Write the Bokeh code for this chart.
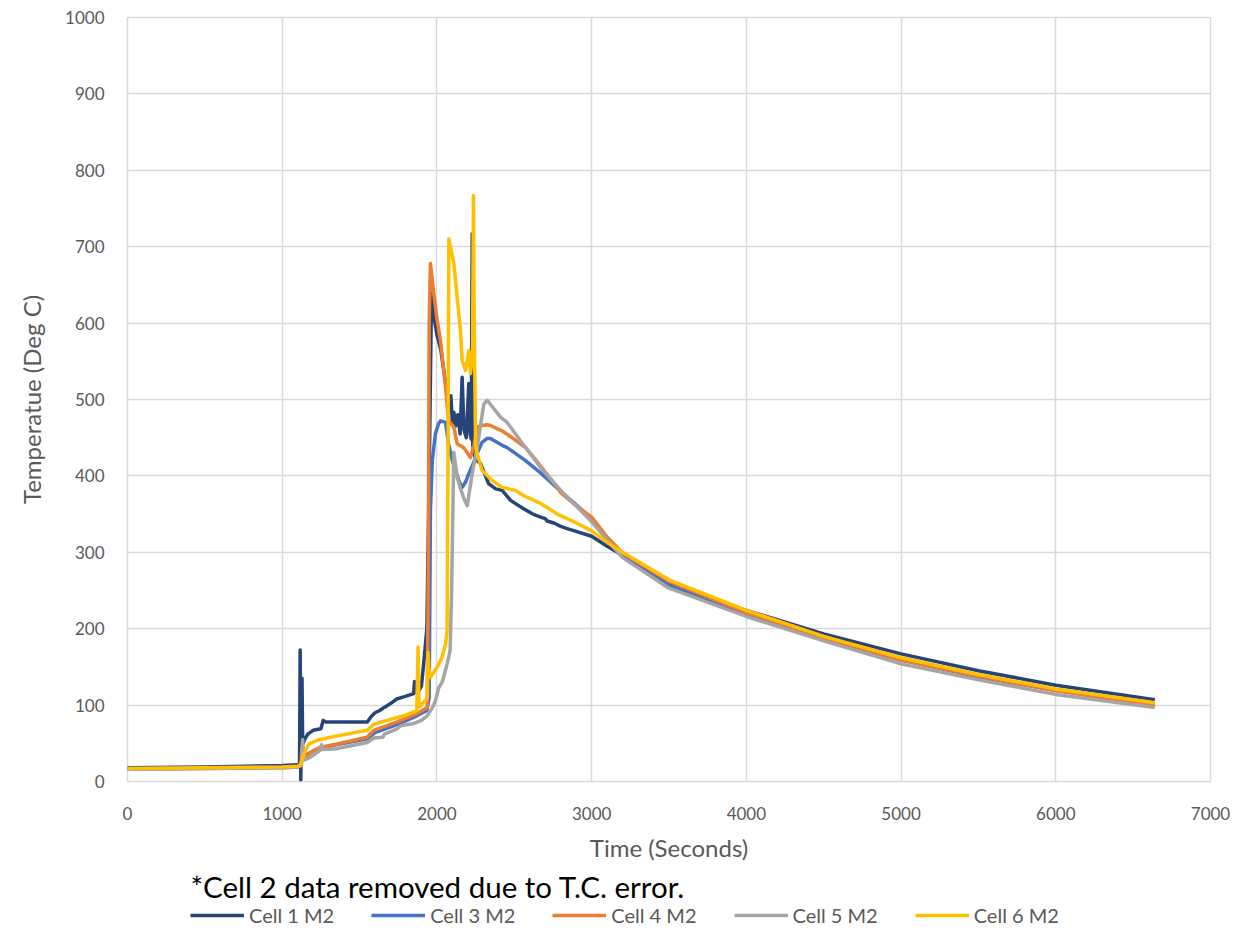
from bokeh.plotting import figure
from bokeh.models import Legend, LegendItem, Label, FixedTicker, Range1d
from bokeh.layouts import column
from bokeh.embed import file_html
from bokeh.resources import INLINE

# ---------------- data ----------------
cell1_t = [0, 500, 1000, 1100, 1112, 1116, 1120, 1124, 1128, 1132, 1136, 1145, 1165, 1200, 1250, 1265,
           1280, 1400, 1550, 1575, 1600, 1630, 1660, 1700, 1740, 1790, 1850, 1855, 1862, 1880, 1900,
           1915, 1935, 1950, 1965, 1975, 2000, 2025, 2050, 2066, 2080, 2090, 2100, 2110, 2120, 2135,
           2150, 2163, 2175, 2190, 2206, 2215, 2222, 2228, 2232, 2245, 2260, 2282, 2334, 2380, 2422,
           2476, 2560, 2620, 2670, 2700, 2713, 2760, 2800, 2842, 2920, 3000, 3100, 3200, 3500, 4000,
           4500, 5000, 5500, 6000, 6640]
cell1_temp = [18, 19, 21, 22, 22, 172, 2, 60, 135, 52, 50, 55, 62, 67, 69, 80,
              78, 78, 78, 85, 90, 93, 97, 102, 108, 111, 115, 131, 117, 118, 125,
              156, 200, 400, 639, 615, 585, 565, 530, 512, 490, 505, 470, 483, 465, 480,
              455, 529, 460, 450, 521, 455, 448, 717, 440, 425, 420, 416, 390, 383, 381,
              368, 357, 350, 346, 344, 341, 338, 334, 331, 326, 321, 308, 296, 259, 224,
              193, 167, 145, 126, 107]

cell3_t = [0, 1000, 1100, 1120, 1140, 1200, 1250, 1350, 1550, 1600, 1750, 1870, 1935, 1950, 1958,
           1970, 1990, 2010, 2023, 2056, 2075, 2100, 2120, 2145, 2163, 2185, 2206, 2238, 2265, 2292,
           2325, 2346, 2422, 2454, 2573, 2670, 2800, 2900, 3000, 3100, 3200, 3500, 4000, 4500, 5000,
           5500, 6000, 6640]
cell3_temp = [17, 19, 20, 24, 33, 40, 44, 48, 56, 64, 75, 86, 93, 110, 355,
              420, 455, 468, 472, 470, 442, 420, 407, 392, 385, 392, 403, 418, 432, 444,
              449, 449, 440, 437, 420, 404, 380, 362, 344, 318, 296, 257, 219, 187, 159,
              137, 119, 100]

cell4_t = [0, 1000, 1100, 1120, 1128, 1135, 1200, 1248, 1355, 1549, 1592, 1743, 1873, 1937, 1945,
           1950, 1958, 1968, 1980, 2002, 2023, 2056, 2075, 2109, 2131, 2173, 2217, 2240, 2260, 2292,
           2325, 2346, 2422, 2500, 2573, 2650, 2700, 2778, 2800, 2900, 3000, 3100, 3200, 3500, 4000,
           4500, 5000, 5500, 6000, 6640]
cell4_temp = [16, 18, 19, 21, 45, 30, 40, 45, 49, 58, 67, 78, 89, 97, 300,
              600, 678, 660, 638, 603, 577, 516, 472, 464, 442, 437, 424, 440, 464, 466,
              467, 466, 459, 448, 437, 418, 405, 385, 378, 361, 346, 320, 299, 262, 221,
              188, 159, 138, 119, 100]

cell5_t = [0, 1000, 1100, 1125, 1132, 1140, 1183, 1248, 1255, 1262, 1355, 1549, 1592, 1650, 1660,
           1743, 1765, 1851, 1900, 1937, 1969, 1991, 2012, 2034, 2066, 2085, 2095, 2109, 2120, 2131,
           2150, 2175, 2196, 2228, 2260, 2303, 2325, 2411, 2454, 2540, 2670, 2800, 2928, 3000, 3100,
           3200, 3500, 4000, 4500, 5000, 5500, 6000, 6640]
cell5_temp = [16, 18, 19, 21, 55, 28, 32, 41, 48, 42, 43, 51, 57, 58, 62,
              69, 73, 76, 80, 86, 96, 106, 123, 130, 154, 171, 250, 431, 415, 398,
              385, 370, 361, 403, 437, 494, 499, 477, 470, 446, 411, 381, 355, 340, 316,
              293, 253, 216, 184, 154, 133, 114, 97]

cell6_t = [0, 1000, 1100, 1120, 1140, 1172, 1226, 1312, 1441, 1549, 1592, 1678, 1786, 1851, 1870,
           1878, 1884, 1890, 1900, 1926, 1938, 1942, 1947, 1958, 2002, 2034, 2056, 2066, 2072, 2077,
           2109, 2131, 2152, 2163, 2185, 2206, 2217, 2230, 2236, 2241, 2250, 2260, 2292, 2357, 2422,
           2508, 2562, 2670, 2778, 2885, 3000, 3100, 3200, 3500, 4000, 4500, 5000, 5500, 6000, 6640]
cell6_temp = [17, 19, 20, 22, 36, 49, 54, 58, 63, 67, 75, 80, 86, 91, 93,
              176, 100, 98, 101, 106, 110, 169, 150, 136, 150, 163, 180, 198, 450, 710,
              678, 634, 590, 551, 538, 564, 534, 560, 767, 600, 440, 429, 407, 394, 385,
              381, 374, 364, 350, 340, 328, 313, 300, 264, 224, 190, 162, 140, 121, 103]

series_names = ["Cell 1 M2", "Cell 3 M2", "Cell 4 M2", "Cell 5 M2", "Cell 6 M2"]
series_colors = ["#264478", "#4472C4", "#ED7D31", "#A5A5A5", "#FFC000"]
x_ticks = [0, 1000, 2000, 3000, 4000, 5000, 6000, 7000]
y_ticks = [0, 100, 200, 300, 400, 500, 600, 700, 800, 900, 1000]
x_title = "Time (Seconds)"
y_title = "Temperatue (Deg C)"
note = "*Cell 2 data removed due to T.C. error."

FONT = "Lato"
GRID = "#d9d9d9"
TXT = "#595959"

all_t = [cell1_t, cell3_t, cell4_t, cell5_t, cell6_t]
all_v = [cell1_temp, cell3_temp, cell4_temp, cell5_temp, cell6_temp]

# ---------------- main chart ----------------
p = figure(width=1242, height=866, output_backend="svg", toolbar_location=None,
           x_range=Range1d(0, 7000), y_range=Range1d(0, 1000),
           min_border_left=127, min_border_right=32, min_border_top=17, min_border_bottom=85)
p.background_fill_color = "white"
p.border_fill_color = "white"
p.outline_line_color = GRID
p.outline_line_width = 1.5

for ax, ticks in ((p.xaxis[0], x_ticks), (p.yaxis[0], y_ticks)):
    ax.ticker = FixedTicker(ticks=ticks)
    ax.axis_line_color = None
    ax.major_tick_line_color = None
    ax.minor_tick_line_color = None
    ax.major_tick_out = 0
    ax.major_tick_in = 0
    ax.major_label_text_font = FONT
    ax.major_label_text_font_size = "17px"
    ax.major_label_text_color = TXT
    ax.axis_label_text_font = FONT
    ax.axis_label_text_font_size = "24px"
    ax.axis_label_text_color = TXT
    ax.axis_label_text_font_style = "normal"

p.xaxis.axis_label = x_title
p.yaxis.axis_label = y_title
p.xaxis.major_label_standoff = 25
p.yaxis.major_label_standoff = 23
p.xaxis.axis_label_standoff = 10
p.yaxis.axis_label_standoff = 16

p.xgrid.ticker = FixedTicker(ticks=x_ticks)
p.ygrid.ticker = FixedTicker(ticks=y_ticks)
p.grid.grid_line_color = GRID
p.grid.grid_line_width = 1.5

for color, t, v in zip(series_colors, all_t, all_v):
    p.line(t, v, line_color=color, line_width=3.5, line_join="round")

# ---------------- footnote + legend strip ----------------
# same series drawn into a strip whose x range shows none of them; used only as legend keys
f = figure(width=1242, height=68, output_backend="svg", toolbar_location=None,
           x_range=Range1d(-3000, -2000), y_range=Range1d(0, 1000),
           x_axis_type=None, y_axis_type=None,
           min_border_left=127, min_border_right=32, min_border_top=0, min_border_bottom=0)
f.outline_line_color = None
f.grid.visible = False
f.background_fill_color = "white"
f.border_fill_color = "white"

f.add_layout(Label(x=63, y=48, x_units="screen", y_units="screen", text=note,
                   text_font=FONT, text_font_size="29.5px", text_color="black",
                   text_baseline="alphabetic"))

items = []
for name, color, t, v in zip(series_names, series_colors, all_t, all_v):
    r = f.line(t, v, line_color=color, line_width=3.5)
    items.append(LegendItem(label=name, renderers=[r]))

legend = Legend(items=items, orientation="horizontal", location=(63, 7),
                label_text_font=FONT, label_text_font_size="20px", label_text_color=TXT,
                glyph_width=54, glyph_height=20, label_standoff=5, spacing=37,
                padding=0, margin=0, background_fill_alpha=0, border_line_color=None,
                label_height=20)
f.add_layout(legend, "center")

layout = column(p, f, spacing=0)
open("out.html", "w").write(file_html(layout, INLINE))
